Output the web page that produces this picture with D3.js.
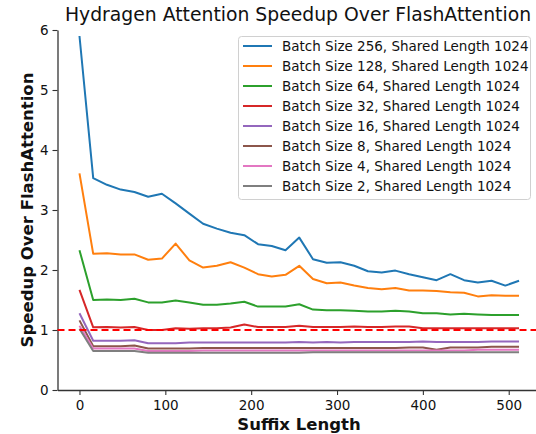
<!DOCTYPE html>
<html>
<head>
<meta charset="utf-8">
<script src="https://cdn.jsdelivr.net/npm/d3@7"></script>
<style>
  body { margin: 0; background: #fff; }
  text { font-family: "DejaVu Sans", sans-serif; }
</style>
</head>
<body>
<div id="chart"></div>
<script>
const suffixLengths = [0, 16, 32, 48, 64, 80, 96, 112, 128, 144, 160, 176, 192, 208, 224, 240, 256,
  272, 288, 304, 320, 336, 352, 368, 384, 400, 416, 432, 448, 464, 480, 496, 512]

const seriesNames = ['Batch Size 256, Shared Length 1024', 'Batch Size 128, Shared Length 1024',
  'Batch Size 64, Shared Length 1024', 'Batch Size 32, Shared Length 1024',
  'Batch Size 16, Shared Length 1024', 'Batch Size 8, Shared Length 1024',
  'Batch Size 4, Shared Length 1024', 'Batch Size 2, Shared Length 1024']

const bs256 = [5.9, 3.53, 3.42, 3.34, 3.30, 3.22, 3.27, 3.11, 2.94, 2.77, 2.69, 2.62, 2.58, 2.43, 2.40, 2.33, 2.54,
  2.18, 2.12, 2.13, 2.07, 1.98, 1.96, 1.99, 1.93, 1.88, 1.83, 1.93, 1.83, 1.79, 1.82, 1.74, 1.82]
const bs128 = [3.61, 2.27, 2.28, 2.26, 2.26, 2.17, 2.19, 2.44, 2.16, 2.04, 2.07, 2.13, 2.04, 1.93, 1.89, 1.92, 2.07,
  1.85, 1.78, 1.79, 1.74, 1.70, 1.68, 1.70, 1.66, 1.66, 1.65, 1.63, 1.62, 1.56, 1.58, 1.57, 1.57]
const bs64 = [2.33, 1.50, 1.51, 1.50, 1.52, 1.46, 1.46, 1.49, 1.46, 1.42, 1.42, 1.44, 1.47, 1.39, 1.39, 1.39, 1.43,
  1.34, 1.33, 1.33, 1.32, 1.31, 1.31, 1.32, 1.31, 1.28, 1.28, 1.26, 1.27, 1.26, 1.25, 1.25, 1.25]
const bs32 = [1.67, 1.045, 1.05, 1.04, 1.05, 1.0, 1.0, 1.03, 1.02, 1.03, 1.03, 1.04, 1.09, 1.05, 1.05, 1.05, 1.07,
  1.05, 1.05, 1.05, 1.06, 1.05, 1.05, 1.06, 1.06, 1.03, 1.03, 1.03, 1.03, 1.03, 1.03, 1.03, 1.03]
const bs16 = [1.28, 0.82, 0.82, 0.82, 0.83, 0.78, 0.78, 0.78, 0.79, 0.79, 0.79, 0.79, 0.79, 0.79, 0.79, 0.79, 0.80,
  0.79, 0.80, 0.79, 0.80, 0.80, 0.80, 0.80, 0.80, 0.81, 0.80, 0.80, 0.80, 0.80, 0.81, 0.81, 0.81]
const bs8 = [1.16, 0.73, 0.73, 0.73, 0.74, 0.69, 0.69, 0.69, 0.69, 0.70, 0.70, 0.70, 0.70, 0.70, 0.70, 0.70, 0.70,
  0.70, 0.70, 0.70, 0.70, 0.70, 0.70, 0.70, 0.71, 0.71, 0.67, 0.71, 0.71, 0.71, 0.72, 0.72, 0.72]
const bs4 = [1.07, 0.69, 0.69, 0.69, 0.69, 0.65, 0.65, 0.65, 0.65, 0.66, 0.66, 0.66, 0.66, 0.66, 0.66, 0.66, 0.66,
  0.66, 0.66, 0.66, 0.66, 0.66, 0.66, 0.66, 0.66, 0.66, 0.66, 0.66, 0.66, 0.67, 0.67, 0.67, 0.67]
const bs2 = [1.02, 0.65, 0.65, 0.65, 0.65, 0.62, 0.62, 0.62, 0.62, 0.62, 0.62, 0.62, 0.62, 0.62, 0.62, 0.62, 0.62,
  0.63, 0.63, 0.63, 0.63, 0.63, 0.63, 0.63, 0.63, 0.63, 0.63, 0.63, 0.63, 0.63, 0.63, 0.63, 0.63]

const xTicks = [0, 100, 200, 300, 400, 500]
const yTicks = [0, 1, 2, 3, 4, 5, 6]
const baseline = 1

const allSeries = [bs256, bs128, bs64, bs32, bs16, bs8, bs4, bs2]
const colors = ['#1f77b4', '#ff7f0e', '#2ca02c', '#d62728', '#9467bd', '#8c564b', '#e377c2', '#7f7f7f']

const W = 536, H = 434
const margin = { top: 30, left: 57.5, right: -5, bottom: 44 }
const width = W - margin.left - margin.right
const height = H - margin.top - margin.bottom

const root = d3.select('#chart').append('svg').attr('width', W).attr('height', H)
const svg = root.append('g').attr('transform', 'translate(' + margin.left + ',' + margin.top + ')')

const x = d3.scaleLinear().domain([-25.6, 537.6]).range([0, width])
const y = d3.scaleLinear().domain([0, 6]).range([height, 0])

// axes, only left + bottom spines
const xAxis = svg.append('g')
  .attr('transform', 'translate(0,' + height + ')')
  .call(d3.axisBottom(x).tickValues(xTicks).tickSize(5).tickPadding(5).tickSizeOuter(0))
const yAxis = svg.append('g')
  .call(d3.axisLeft(y).tickValues(yTicks).tickFormat(d3.format('d')).tickSize(5).tickPadding(4).tickSizeOuter(0))

;[xAxis, yAxis].forEach(function (a) {
  a.select('.domain').attr('stroke', '#333').attr('stroke-width', 1.3)
  a.selectAll('.tick line').attr('stroke', '#333').attr('stroke-width', 1.1)
  a.selectAll('.tick text').attr('font-size', '13.5px').attr('fill', '#111').attr('font-family', 'DejaVu Sans')
})

const line = d3.line()
  .x(function (d, i) { return x(suffixLengths[i]) })
  .y(function (d) { return y(d) })

svg.selectAll('.series')
  .data(allSeries)
  .enter()
  .append('path')
  .attr('class', 'series')
  .attr('d', line)
  .attr('fill', 'none')
  .attr('stroke', function (d, i) { return colors[i] })
  .attr('stroke-width', 2)
  .attr('stroke-linejoin', 'round')

// dashed red reference at 1
svg.append('line')
  .attr('x1', 0).attr('x2', width)
  .attr('y1', y(baseline)).attr('y2', y(baseline))
  .attr('stroke', 'red')
  .attr('stroke-width', 2)
  .style('stroke-dasharray', '7, 4')

// titles
root.append('text').attr('x', 298).attr('y', 21).attr('text-anchor', 'middle')
  .attr('font-size', '18.8px').attr('fill', '#111').text('Hydragen Attention Speedup Over FlashAttention')
root.append('text').attr('x', 299).attr('y', 430).attr('text-anchor', 'middle')
  .attr('font-size', '16.5px').attr('font-weight', 'bold').attr('fill', '#111').text('Suffix Length')
root.append('text').attr('transform', 'translate(33,' + (margin.top + height / 2) + ') rotate(-90)')
  .attr('text-anchor', 'middle').attr('font-size', '16.5px').attr('font-weight', 'bold').attr('fill', '#111')
  .text('Speedup Over FlashAttention')

// legend
const legend = root.append('g').attr('transform', 'translate(238,36)')
legend.append('rect')
  .attr('x', 0.5).attr('y', 0.5).attr('width', 292).attr('height', 163)
  .attr('rx', 3).attr('fill', 'white').attr('fill-opacity', 0.8)
  .attr('stroke', '#d0d0d0').attr('stroke-width', 1)

const rows = legend.selectAll('.leg').data(seriesNames).enter().append('g')
  .attr('transform', function (d, i) { return 'translate(0,' + (10 + i * 20) + ')' })
rows.append('line').attr('x1', 5).attr('x2', 34).attr('y1', 0).attr('y2', 0)
  .attr('stroke', function (d, i) { return colors[i] }).attr('stroke-width', 2)
rows.append('text').attr('x', 44).attr('y', 0).attr('dy', '0.35em')
  .attr('font-size', '13.5px').attr('fill', '#111').text(function (d) { return d })
</script>
</body>
</html>
